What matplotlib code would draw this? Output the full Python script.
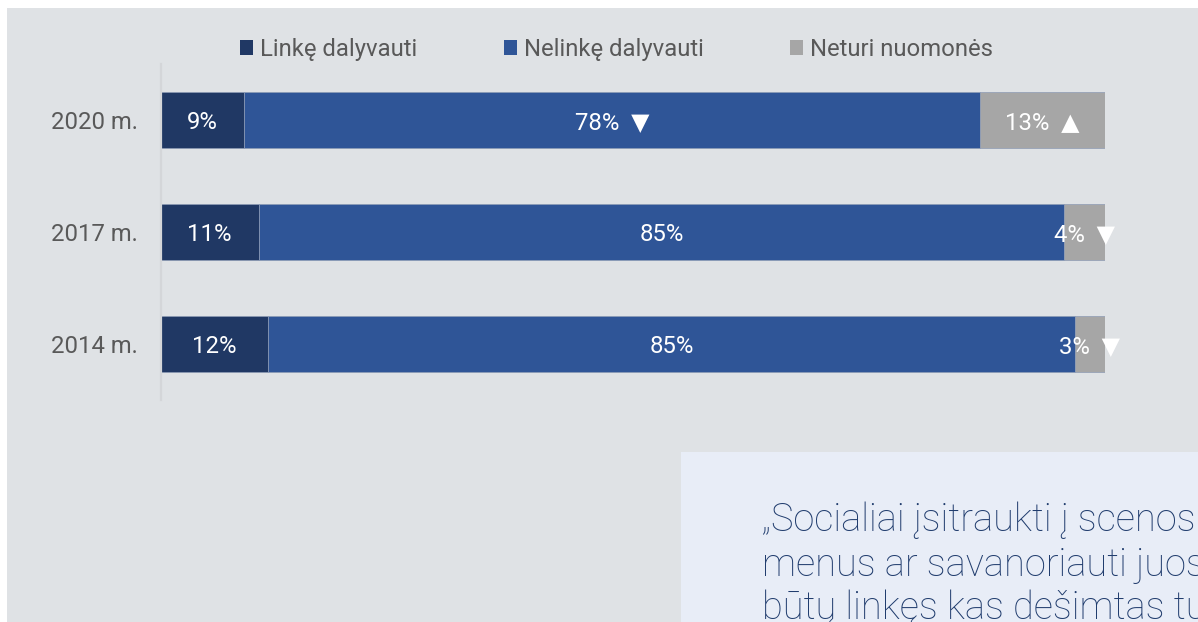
import matplotlib
matplotlib.use("Agg")
import matplotlib.pyplot as plt
from matplotlib.patches import Rectangle
import numpy as np

# ---- data ----
years = ["2020 m.", "2017 m.", "2014 m."]
series_names = ["Linkę dalyvauti", "Nelinkę dalyvauti", "Neturi nuomonės"]
linke = [8.8, 10.4, 11.4]
nelinke = [78.0, 85.3, 85.4]
neturi = [13.2, 4.3, 3.2]
label_linke = ["9%", "11%", "12%"]
label_nelinke = ["78% ▼", "85%", "85%"]
label_neturi = ["13% ▲", "4% ▼", "3% ▼"]
quote_lines = ["„Socialiai įsitraukti į scenos menų",
               "menus ar savanoriauti juose",
               "būtų linkęs kas dešimtas turintis"]

colors = ["#203864", "#2f5597", "#a6a6a6"]
BG = "#dfe2e5"
W, H = 1198, 622
FS = 17.2
FONT = ["Roboto", "DejaVu Sans"]
plt.rcParams['font.family'] = FONT

fig = plt.figure(figsize=(W / 100, H / 100), dpi=100)
fig.patch.set_facecolor("white")
# gray panel
fig.patches.append(Rectangle((7 / W, 0), 1 - 7 / W, 1 - 8 / H, transform=fig.transFigure,
                             facecolor=BG, edgecolor="none", zorder=-2))
# quote box
fig.patches.append(Rectangle((681 / W, 0), 1 - 681 / W, (H - 452) / H, transform=fig.transFigure,
                             facecolor="#e8edf7", edgecolor="none", zorder=-1))

ax = fig.add_axes([160.5 / W, (H - 400) / H, 944.5 / W, 336 / H])
ax.set_zorder(2)
ax.set_facecolor("none")
y = np.arange(len(years))
data = [linke, nelinke, neturi]
labels = [label_linke, label_nelinke, label_neturi]
left = np.zeros(len(years))
handles = []
for vals, col, name, labs in zip(data, colors, series_names, labels):
    vals = np.array(vals)
    b = ax.barh(y, vals, left=left, height=0.5, color=col, edgecolor="#8d9bb5",
                linewidth=0.5, label=name)
    handles.append(b)
    for yi, l, v, t in zip(y, left, vals, labs):
        ax.text(l + v / 2, yi, t.replace(" ", "  "), ha="center", va="center_baseline",
                color="white", fontsize=FS, family=FONT)
    left = left + vals

ax.set_xlim(0, 100)
ax.set_ylim(2.5, -0.5)
ax.set_yticks(y)
ax.set_yticklabels(years, fontsize=FS, color="#595959", va="center_baseline")
ax.tick_params(axis="y", length=0, pad=16.5)
ax.set_xticks([])
for s in ["top", "right", "bottom"]:
    ax.spines[s].set_visible(False)
ax.spines["left"].set_color("#d4d6d9")
ax.spines["left"].set_linewidth(1.6)

leg = fig.legend(handles=[h[0] for h in handles], labels=series_names, loc="center left",
                 bbox_to_anchor=(240 / W, 1 - 49.5 / H), ncol=3, frameon=False,
                 fontsize=FS, handlelength=0.55, handleheight=0.55,
                 handletextpad=0.3, columnspacing=3.6, borderpad=0, borderaxespad=0)
for t in leg.get_texts():
    t.set_color("#595959")
for h in leg.legend_handles:
    h.set_edgecolor("none")

baselines = [531, 576, 619]
for line, bl in zip(quote_lines, baselines):
    fig.text(762 / W, 1 - bl / H, line, ha="left", va="baseline", fontsize=27.4,
             color="#213d6e", fontweight="light", zorder=3)

fig.savefig("out.png", dpi=100)
